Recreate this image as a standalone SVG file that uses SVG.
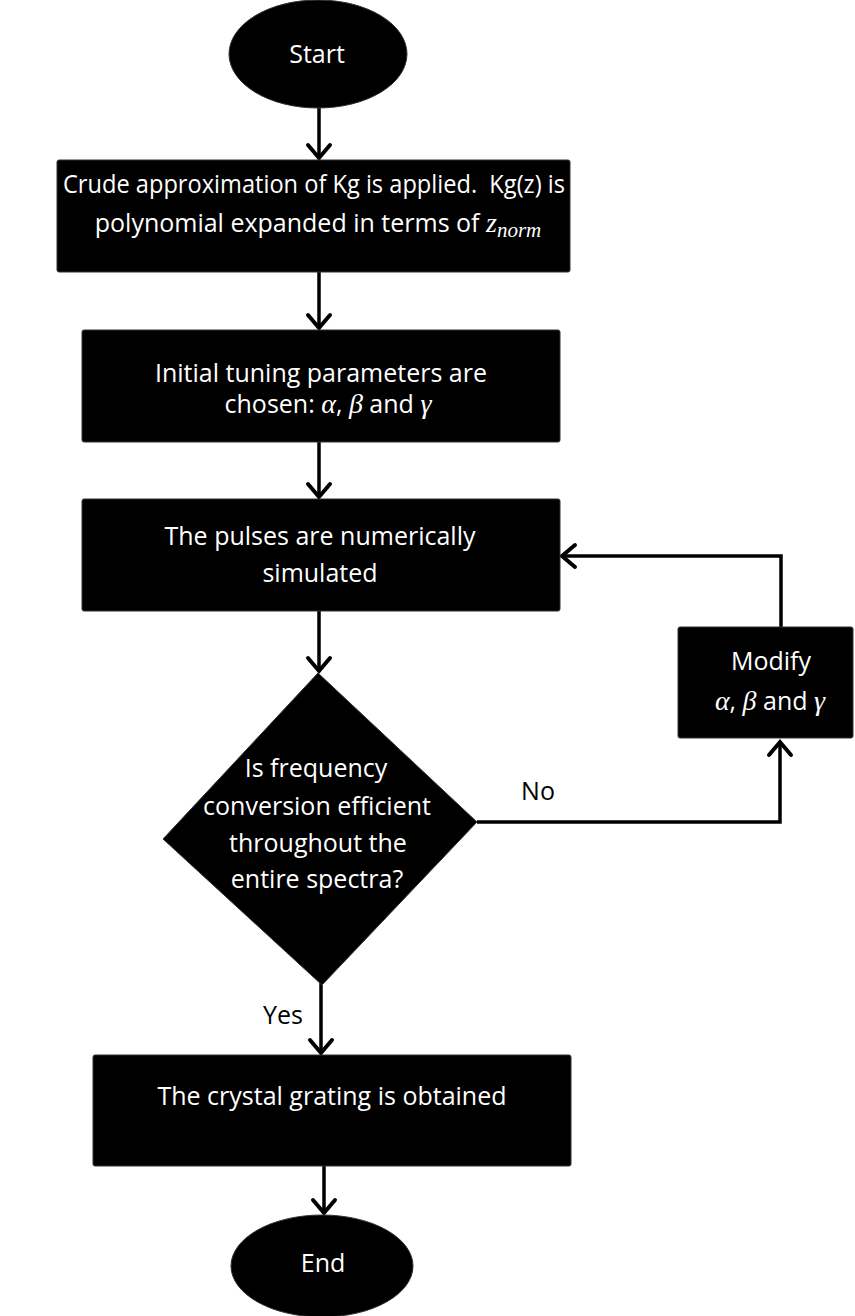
<svg xmlns="http://www.w3.org/2000/svg" width="855" height="1316" viewBox="0 0 855 1316">
<style>
.node{fill:#000;stroke:#333;stroke-width:1}
.t{font-family:"Open Sans","Noto Sans",sans-serif;font-size:25px;fill:#fff;text-anchor:middle}
.lbl{font-family:"Open Sans","Noto Sans",sans-serif;font-size:25px;fill:#000;text-anchor:middle}
.m{font-family:"Liberation Serif","DejaVu Serif",serif;font-style:italic;font-size:28px}
.c{fill:none;stroke:#000;stroke-width:3.5}
</style>
<defs>
<marker id="ah" markerUnits="userSpaceOnUse" markerWidth="30" markerHeight="30" viewBox="-16 -15 20 30" refX="0" refY="0" orient="auto">
<path d="M-13,-11 L0,0 L-13,11" fill="none" stroke="#000" stroke-width="4" stroke-linecap="round" stroke-linejoin="miter"/>
</marker>
</defs>
<g id="connectors">
<line class="c" x1="319" y1="108" x2="319" y2="158" marker-end="url(#ah)"/>
<line class="c" x1="319" y1="272" x2="319" y2="328" marker-end="url(#ah)"/>
<line class="c" x1="319" y1="442" x2="319" y2="497" marker-end="url(#ah)"/>
<line class="c" x1="319" y1="611" x2="319" y2="671" marker-end="url(#ah)"/>
<line class="c" x1="321" y1="983" x2="321" y2="1053" marker-end="url(#ah)"/>
<line class="c" x1="324" y1="1166" x2="324" y2="1213" marker-end="url(#ah)"/>
<polyline class="c" points="477,822 780,822 780,742" marker-end="url(#ah)"/>
<polyline class="c" points="781,627 781,556 562,556" marker-end="url(#ah)"/>
<text class="lbl" x="538" y="800">No</text>
<text class="lbl" x="283" y="1024">Yes</text>
</g>
<g id="start">
<ellipse class="node" cx="318" cy="54" rx="89" ry="54"/>
<text class="t" x="317" y="63">Start</text>
</g>
<g id="box1">
<rect class="node" x="57" y="160" width="513" height="112" rx="2"/>
<text class="t" x="314" y="193" xml:space="preserve" textLength="502" lengthAdjust="spacingAndGlyphs">Crude approximation of Kg is applied.  Kg(z) is</text>
<text class="t" x="318" y="232">polynomial expanded in terms of <tspan class="m">z<tspan font-size="21" dy="5">norm</tspan></tspan></text>
</g>
<g id="box2">
<rect class="node" x="82" y="330" width="478" height="112" rx="2"/>
<text class="t" x="321" y="382">Initial tuning parameters are</text>
<text class="t" x="328" y="413">chosen: <tspan class="m">α</tspan>, <tspan class="m">β</tspan> and <tspan class="m">γ</tspan></text>
</g>
<g id="box3">
<rect class="node" x="82" y="499" width="478" height="112" rx="2"/>
<text class="t" x="320" y="545">The pulses are numerically</text>
<text class="t" x="320" y="582">simulated</text>
</g>
<g id="decision">
<polygon class="node" points="318,673 477,822 322,985 163,839"/>
<text class="t" x="316" y="777">Is frequency</text>
<text class="t" x="317" y="815">conversion efficient</text>
<text class="t" x="318" y="852">throughout the</text>
<text class="t" x="317" y="888">entire spectra?</text>
</g>
<g id="modify">
<rect class="node" x="678" y="627" width="175" height="111" rx="2"/>
<text class="t" x="771" y="670">Modify</text>
<text class="t" x="770" y="710"><tspan class="m">α</tspan>, <tspan class="m">β</tspan> and <tspan class="m">γ</tspan></text>
</g>
<g id="box4">
<rect class="node" x="93" y="1055" width="478" height="111" rx="2"/>
<text class="t" x="332" y="1105">The crystal grating is obtained</text>
</g>
<g id="end">
<ellipse class="node" cx="322" cy="1266" rx="91" ry="51"/>
<text class="t" x="323" y="1272">End</text>
</g>
</svg>
